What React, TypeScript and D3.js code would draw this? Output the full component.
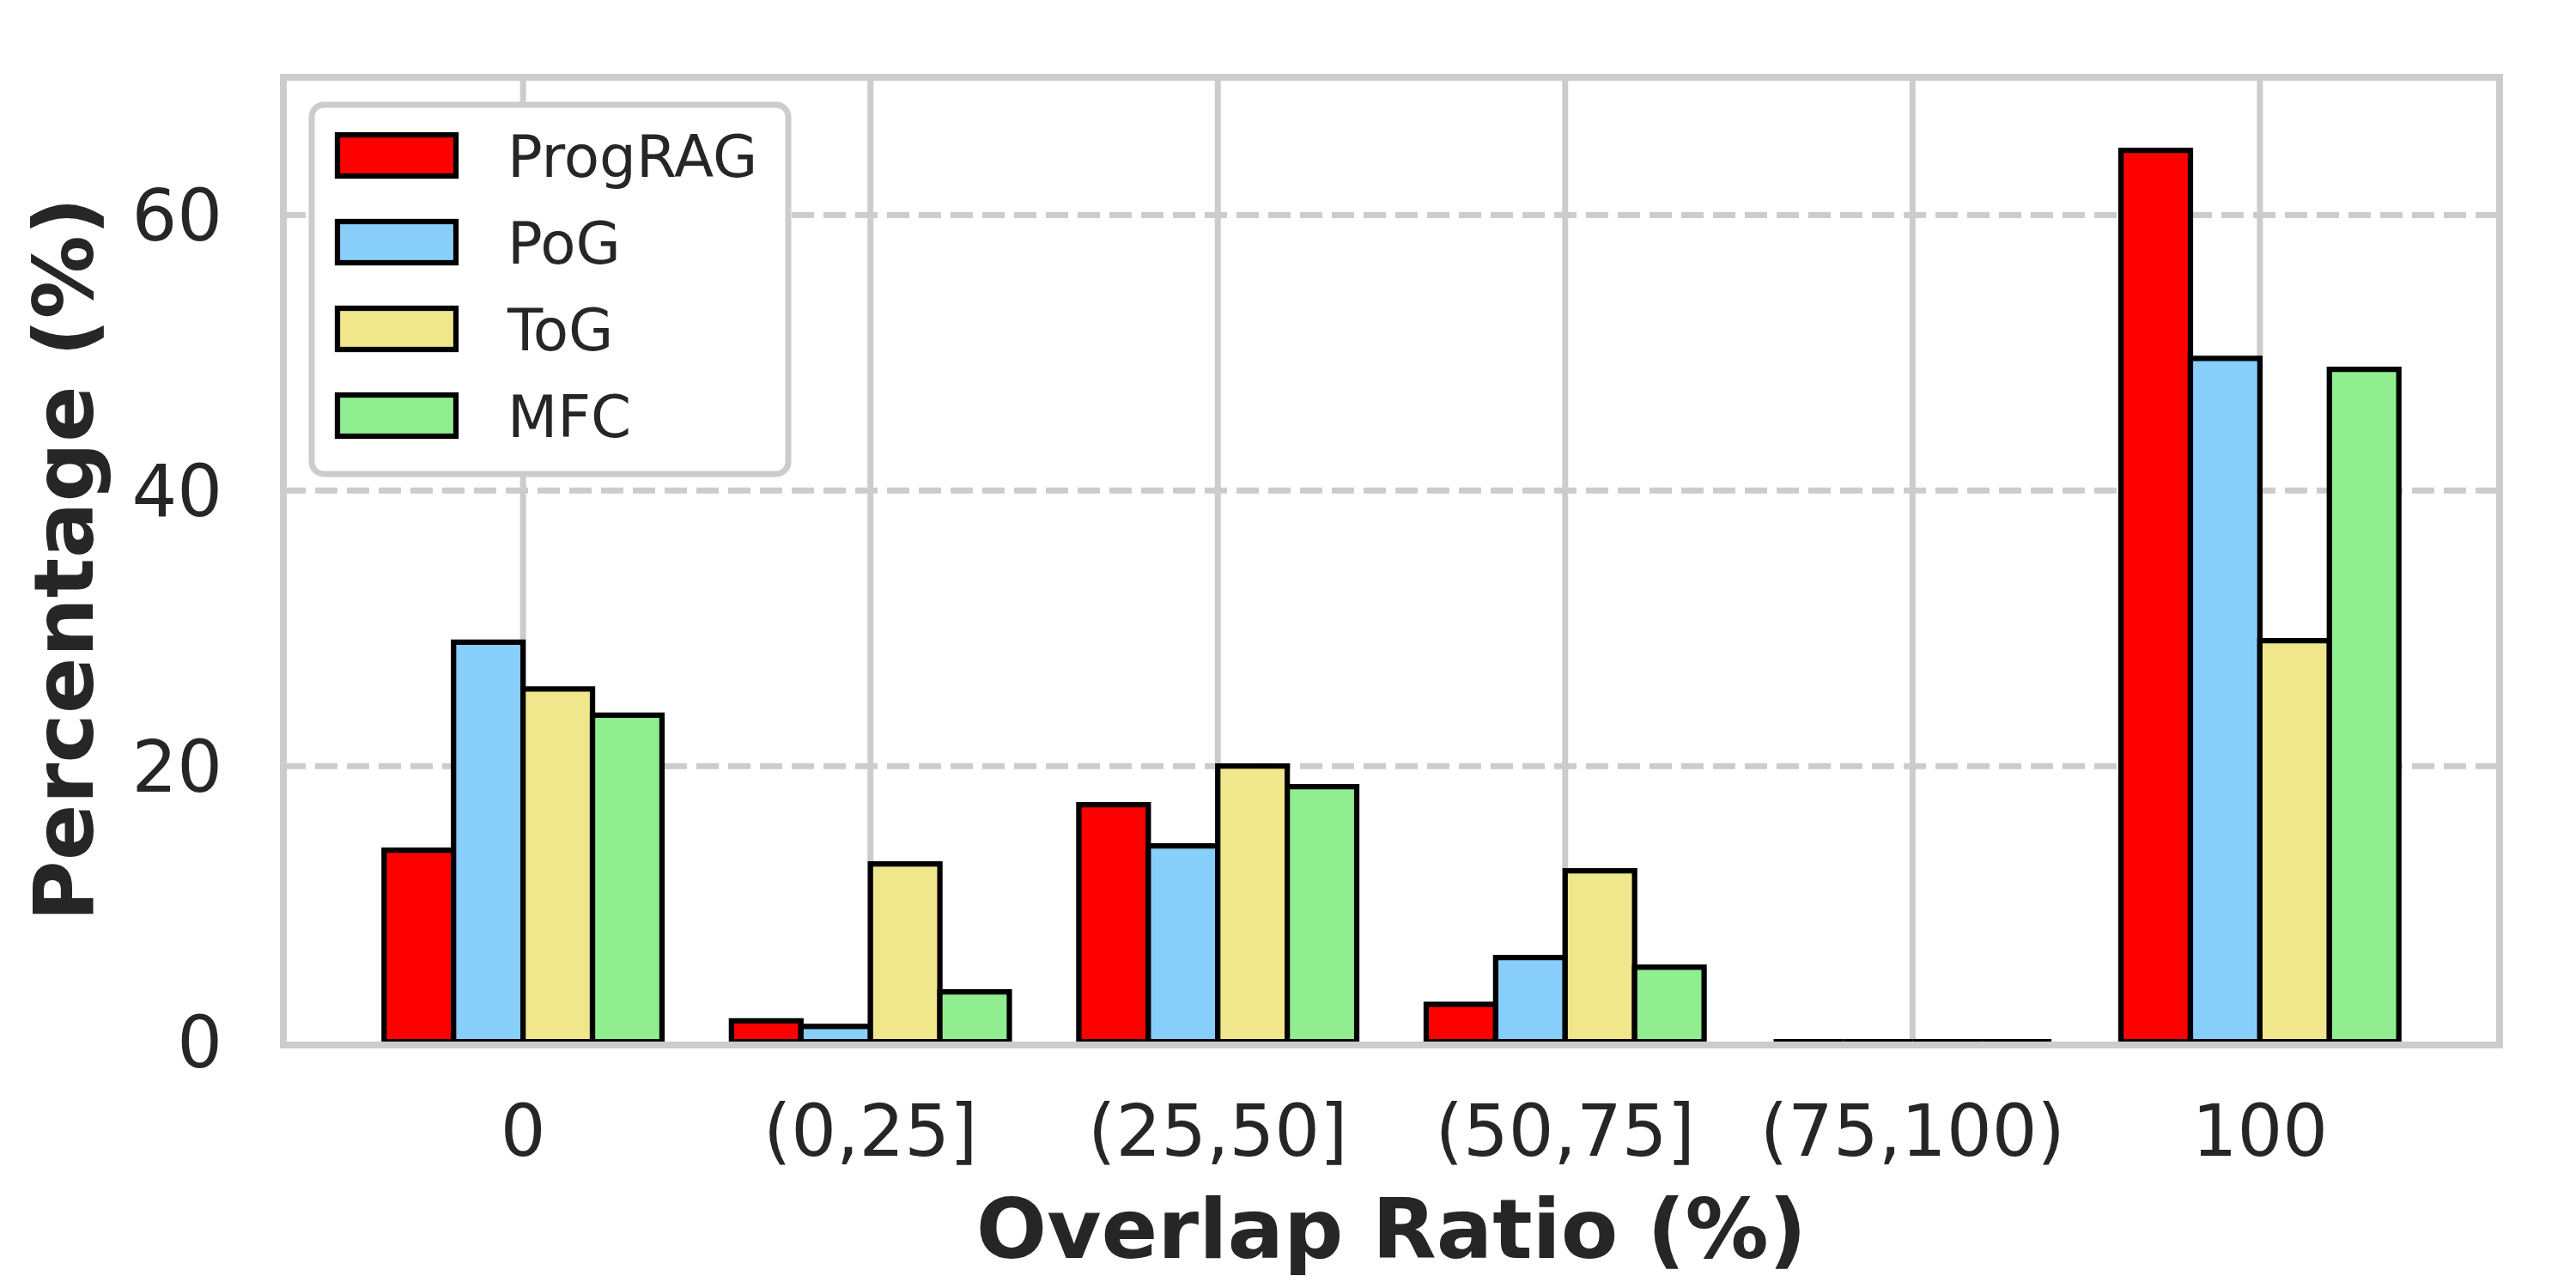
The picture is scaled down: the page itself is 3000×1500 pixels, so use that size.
import React from "react";
import * as d3 from "d3";

const categories = ["0", "(0,25]", "(25,50]", "(50,75]", "(75,100)", "100"];
const seriesNames = ["ProgRAG", "PoG", "ToG", "MFC"];
const progRAG = [13.9, 1.5, 17.2, 2.7, 0, 64.7];
const poG = [29.0, 1.1, 14.2, 6.1, 0, 49.6];
const toG = [25.6, 12.9, 20.0, 12.4, 0, 29.1];
const mfc = [23.7, 3.6, 18.5, 5.4, 0, 48.8];
const seriesColors = ["#ff0000", "#87cefa", "#f0e68c", "#90ee90"];
const yTicks = [0, 20, 40, 60];

const series = [progRAG, poG, toG, mfc];

const W = 3000;
const H = 1500;
const L = 330;
const R = 2911;
const T = 90;
const B = 1213;
const TXT = "#262626";
const GRID = "#cccccc";
const FONT = "DejaVu Sans, Verdana, sans-serif";

export default function App() {
  const x = d3.scaleLinear().domain([-0.69, 5.69]).range([L, R]);
  const y = d3.scaleLinear().domain([0, 70]).range([B, T]);
  const barW = 0.2;

  const bars: React.ReactNode[] = [];
  series.forEach((vals, si) => {
    vals.forEach((v, ci) => {
      const x0 = x(ci - 0.4 + si * barW);
      const x1 = x(ci - 0.4 + (si + 1) * barW);
      const y0 = y(0);
      const y1 = y(v);
      const path = d3.path();
      path.moveTo(x0, y0);
      path.lineTo(x0, y1);
      path.lineTo(x1, y1);
      path.lineTo(x1, y0);
      path.closePath();
      bars.push(
        <path
          key={`b-${si}-${ci}`}
          d={path.toString()}
          fill={seriesColors[si]}
          stroke="#000"
          strokeWidth={6.25}
          strokeLinejoin="miter"
        />
      );
    });
  });

  const legendX = 363;
  const legendY = 122;
  const legendW = 555;
  const legendH = 430;
  const rowY = [181, 282, 383, 484];

  return (
    <svg
      width={W}
      height={H}
      viewBox={`0 0 ${W} ${H}`}
      style={{ position: "fixed", left: 0, top: 0, background: "#fff" }}
      fontFamily={FONT}
    >
      <rect x={0} y={0} width={W} height={H} fill="#fff" />
      {/* vertical grid */}
      {categories.map((c, i) => (
        <line key={`vg-${c}`} x1={x(i)} x2={x(i)} y1={T} y2={B} stroke={GRID} strokeWidth={7} />
      ))}
      {/* horizontal dashed grid (the 0 line sits under the bottom spine) */}
      {yTicks
        .filter((t) => t > 0)
        .map((t) => (
          <line
            key={`hg-${t}`}
            x1={L}
            x2={R}
            y1={y(t)}
            y2={y(t)}
            stroke={GRID}
            strokeWidth={7}
            strokeDasharray="26 11"
          />
        ))}
      {bars}
      {/* spines */}
      <rect x={L} y={T} width={R - L} height={B + 4 - T} fill="none" stroke={GRID} strokeWidth={8} />
      {/* y tick labels */}
      {yTicks.map((t) => (
        <text key={`yt-${t}`} x={259} y={y(t) + 30} textAnchor="end" fontSize={83} fill={TXT}>
          {t}
        </text>
      ))}
      {/* x tick labels */}
      {categories.map((c, i) => (
        <text key={`xt-${c}`} x={x(i)} y={1346} textAnchor="middle" fontSize={83} fill={TXT}>
          {c}
        </text>
      ))}
      {/* axis labels */}
      <text x={(L + R) / 2} y={1465} textAnchor="middle" fontSize={97} fontWeight="bold" fill={TXT}>
        Overlap Ratio (%)
      </text>
      <text
        transform={`translate(108, ${(T + B) / 2}) rotate(-90)`}
        textAnchor="middle"
        fontSize={97}
        fontWeight="bold"
        fill={TXT}
      >
        Percentage (%)
      </text>
      {/* legend */}
      <rect
        x={legendX}
        y={legendY}
        width={legendW}
        height={legendH}
        rx={14}
        ry={14}
        fill="#fff"
        stroke={GRID}
        strokeWidth={7}
      />
      {seriesNames.map((n, i) => (
        <g key={`lg-${n}`}>
          <rect
            x={393}
            y={rowY[i] - 24}
            width={138}
            height={48}
            fill={seriesColors[i]}
            stroke="#000"
            strokeWidth={6.25}
          />
          <text x={591} y={rowY[i] + 24.5} fontSize={67.5} fill={TXT}>
            {n}
          </text>
        </g>
      ))}
    </svg>
  );
}
